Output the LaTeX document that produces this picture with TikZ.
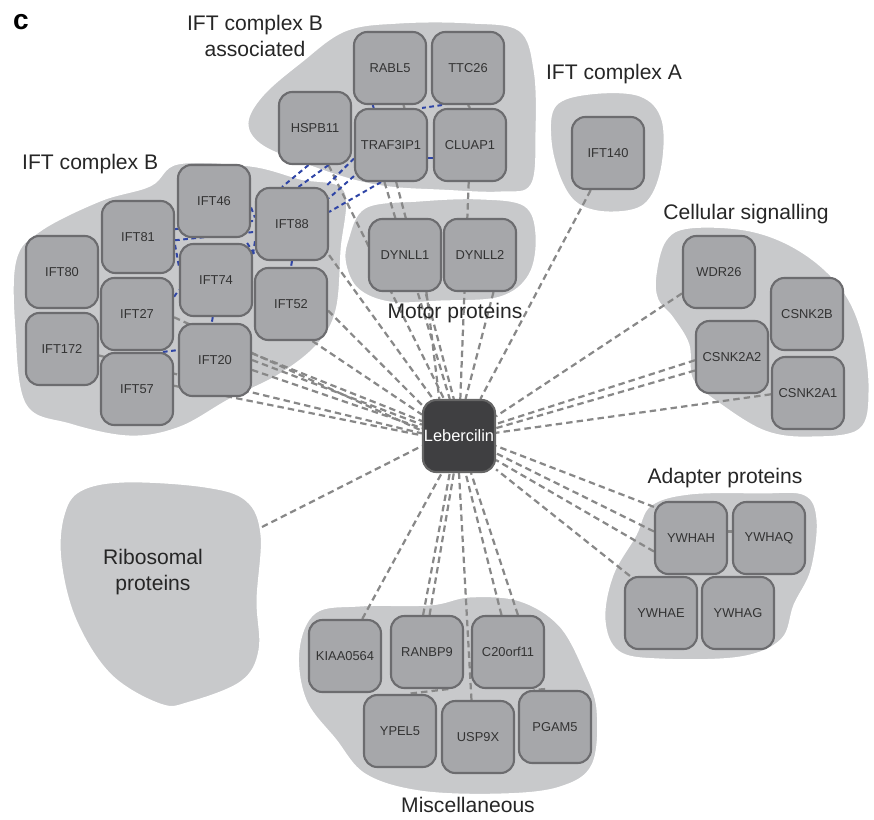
\documentclass[tikz,border=0pt]{standalone}
\usepackage{fontspec}
\setmainfont{Liberation Sans}
\definecolor{blobgray}{HTML}{C8C9CB}
\definecolor{protgray}{HTML}{A6A7AA}
\definecolor{rimgray}{HTML}{6C6C6F}
\definecolor{lebgray}{HTML}{3F3F41}
\definecolor{linkgray}{HTML}{888888}
\definecolor{linkblue}{HTML}{2F45A6}
\pgfdeclarelayer{blobs}
\pgfdeclarelayer{links}
\pgfsetlayers{blobs,links,main}

\begin{document}
\begin{tikzpicture}[x=0.03cm,y=-0.03cm,
    prot/.style={draw=rimgray,fill=protgray,line width=1.8pt,rounded corners=0.4cm,
      minimum size=2.16cm,inner sep=0pt,text=black!80,font=\fontsize{11}{13}\selectfont},
    grp/.style={fill=blobgray,draw=white,line width=2.5pt},
    glabel/.style={inner sep=0pt,text=black!85,font=\fontsize{18}{21.5}\selectfont,align=center},
    lnk/.style={linkgray,dash pattern=on 5.5pt off 3.5pt,line width=1.9pt},
    iftlnk/.style={linkblue,dash pattern=on 4pt off 3pt,line width=1.7pt}]
    \useasboundingbox (0,0) rectangle (874,820);

    % groups
    \begin{pgfonlayer}{blobs}
    \draw[grp] plot[smooth cycle,tension=0.6] coordinates {(15,260) (40,230) (100,200) (150,185)
      (178,163) (250,165) (300,178) (345,190) (342,250) (337,310) (318,345) (280,375)
      (230,400) (180,428) (130,437) (70,425) (25,405) (14,330)};
    \draw[grp] plot[smooth cycle,tension=0.6] coordinates {(247,123) (262,95) (300,62) (345,30)
      (400,22) (470,22) (520,30) (535,70) (537,130) (532,185) (500,193) (440,191)
      (390,188) (350,180) (300,163) (260,145)};
    \draw[grp] plot[smooth cycle,tension=0.6] coordinates {(347,240) (365,207) (420,200) (480,198)
      (525,205) (537,235) (530,275) (500,298) (440,302) (390,303) (358,290) (345,265)};
    \draw[grp] plot[smooth cycle,tension=0.6] coordinates {(555,105) (590,93) (640,95) (663,120)
      (662,170) (645,205) (610,213) (578,205) (560,180) (550,140)};
    \draw[grp] plot[smooth cycle,tension=0.6] coordinates {(655,275) (665,240) (690,227) (750,230)
      (800,250) (840,285) (862,330) (870,390) (860,430) (810,438) (765,432) (720,405)
      (692,380) (688,345) (672,318) (657,300)};
    \draw[grp] plot[smooth cycle,tension=0.6] coordinates {(650,505) (690,493) (760,492) (805,494)
      (818,520) (812,570) (795,605) (782,640) (740,658) (660,660) (618,652) (604,620)
      (612,575) (635,535)};
    \draw[grp] plot[smooth cycle,tension=0.6] coordinates {(298,650) (315,612) (360,605) (430,604)
      (470,596) (520,600) (560,625) (585,670) (598,710) (593,765) (560,788) (500,795)
      (420,792) (365,775) (335,740) (305,700)};
    \draw[grp] plot[smooth cycle,tension=0.6] coordinates {(63,515) (80,490) (125,481) (205,486)
      (247,500) (262,535) (258,600) (260,650) (242,682) (190,703) (160,705) (110,675)
      (75,620) (60,560)};
    \end{pgfonlayer}
    \coordinate (riboend) at (262,527);

    % IFT complex B
    \node[prot] (ift46) at (214,201) {IFT46};
    \node[prot] (ift88) at (292,224) {IFT88};
    \node[prot] (ift81) at (138,237) {IFT81};
    \node[prot] (ift80) at (62,272) {IFT80};
    \node[prot] (ift74) at (216,280) {IFT74};
    \node[prot] (ift52) at (291,304) {IFT52};
    \node[prot] (ift27) at (137,314) {IFT27};
    \node[prot] (ift172) at (62,349) {IFT172};
    \node[prot] (ift20) at (215,360) {IFT20};
    \node[prot] (ift57) at (137,389) {IFT57};

    % IFT complex B associated
    \node[prot] (rabl5) at (390,68) {RABL5};
    \node[prot] (ttc26) [right of=rabl5,node distance=2.34cm] {TTC26};
    \node[prot] (hspb11) at (315,128) {HSPB11};
    \node[prot] (traf3ip1) at (391,145) {TRAF3IP1};
    \node[prot] (cluap1) [right of=traf3ip1,node distance=2.37cm] {CLUAP1};

    \node[prot] (ift140) at (608,153) {IFT140};

    \node[prot] (dynll1) at (405,255) {DYNLL1};
    \node[prot] (dynll2) [right of=dynll1,node distance=2.25cm] {DYNLL2};

    \node[prot,fill=lebgray,draw=black!60,text=white,font=\fontsize{14}{16}\selectfont]
      (leb) at (459,436) {Lebercilin};

    \node[prot] (wdr26) at (719,272) {WDR26};
    \node[prot] (csnk2b) at (807,314) {CSNK2B};
    \node[prot] (csnk2a2) at (732,357) {CSNK2A2};
    \node[prot] (csnk2a1) at (808,393) {CSNK2A1};

    \node[prot] (ywhah) at (691,538) {YWHAH};
    \node[prot] (ywhaq) [right of=ywhah,node distance=2.34cm] {YWHAQ};
    \node[prot] (ywhae) at (661,613) {YWHAE};
    \node[prot] (ywhag) [right of=ywhae,node distance=2.31cm] {YWHAG};

    \node[prot] (kiaa0564) at (345,656) {KIAA0564};
    \node[prot] (ranbp9) at (427,652) {RANBP9};
    \node[prot] (c20orf11) at (508,652) {C20orf11};
    \node[prot] (ypel5) at (400,731) {YPEL5};
    \node[prot] (usp9x) at (478,737) {USP9X};
    \node[prot] (pgam5) at (555,727) {PGAM5};

    % group labels
    \node[font=\fontsize{24}{26}\selectfont\bfseries] (panel) at (21,22) {c};
    \node[glabel,anchor=base west] (lblb) at (22,170) {IFT complex B};
    \node[glabel] (lblassoc) at (255,36) {IFT complex B\\associated};
    \node[glabel,anchor=base] (lbla) at (614,80) {IFT complex A};
    \node[glabel,anchor=base] (lblsig) at (746,220) {Cellular signalling};
    \node[glabel,anchor=base] (lblmotor) at (455,318) {Motor proteins};
    \node[glabel,anchor=base] (lbladapt) at (725,483) {Adapter proteins};
    \node[glabel,anchor=base] (lblmisc) at (468,812) {Miscellaneous};
    \node[glabel] (lblribo) at (153,572) {Ribosomal\\proteins};

    % interactions
    \begin{pgfonlayer}{links}
    \draw[lnk] (ift88.-40) -- (leb.125);
    \draw[lnk] (ift52.-10) -- (leb.140);
    \draw[lnk] (ift52.-60) -- (leb.150);
    \draw[lnk] (ift20.10) -- (leb.158);
    \draw[lnk] (ift20.0) -- (leb.163);
    \draw[lnk] (ift20.-15) -- (leb.168);
    \draw[lnk] (ift27.-5) -- (leb.172);
    \draw[lnk] (ift172.-10) -- (leb.176);
    \draw[lnk] (ift57.5) -- (leb.179);
    \draw[lnk] (hspb11.-70) -- (leb.112);
    \draw[lnk] (traf3ip1.-100) -- (leb.104);
    \draw[lnk] (traf3ip1.-82) -- (leb.98);
    \draw[lnk] (dynll1.-60) -- (leb.118);
    \draw[lnk] (cluap1.-92) -- (leb.88);
    \draw[lnk] (dynll2.-70) -- (leb.80);
    \draw[lnk] (ift140.-115) -- (leb.60);
    \draw[lnk] (wdr26.-150) -- (leb.28);
    \draw[lnk] (csnk2a2.-175) -- (leb.18);
    \draw[lnk] (csnk2a2.-160) -- (leb.12);
    \draw[lnk] (csnk2a1.-178) -- (leb.5);
    \draw[lnk] (ywhah.140) -- (leb.-15);
    \draw[lnk] (ywhah.170) -- (leb.-25);
    \draw[lnk] (ywhah.-160) -- (leb.-33);
    \draw[lnk] (ywhae.130) -- (leb.-42);
    \draw[lnk] (riboend) -- (leb.-165);
    \draw[lnk] (kiaa0564.65) -- (leb.-115);
    \draw[lnk] (ranbp9.96) -- (leb.-104);
    \draw[lnk] (ranbp9.86) -- (leb.-98);
    \draw[lnk] (usp9x.100) -- (leb.-90);
    \draw[lnk] (c20orf11.100) -- (leb.-80);
    \draw[lnk] (c20orf11.75) -- (leb.-72);
    \draw[lnk] (rabl5.-70) -- (traf3ip1.70);
    \draw[lnk] (ttc26.-90) -- (cluap1.90);
    \draw[lnk] (ranbp9.-60) -- (ypel5.80);
    \draw[lnk] (c20orf11.-45) -- (pgam5.120);
    \draw[lnk] (ywhah.10) -- (ywhaq.170);
    % within IFT-B
    \draw[iftlnk] (hspb11.-100) -- (ift88.105);
    \draw[iftlnk] (hspb11.-70) -- (ift88.80);
    \draw[iftlnk] (traf3ip1.-140) -- (ift88.35);
    \draw[iftlnk] (traf3ip1.-160) -- (ift88.48);
    \draw[iftlnk] (traf3ip1.-105) -- (ift88.18);
    \draw[iftlnk] (ttc26.-125) -- (traf3ip1.50);
    \draw[iftlnk] (rabl5.-115) -- (traf3ip1.115);
    \draw[iftlnk] (traf3ip1.-20) -- (cluap1.-160);
    \draw[iftlnk] (ift46.-10) -- (ift88.170);
    \draw[iftlnk] (ift81.12) -- (ift88.175);
    \draw[iftlnk] (ift81.-5) -- (ift88.-168);
    \draw[iftlnk] (ift74.50) -- (ift88.-140);
    \draw[iftlnk] (ift74.35) -- (ift88.-155);
    \draw[iftlnk] (ift88.-90) -- (ift52.90);
    \draw[iftlnk] (ift27.25) -- (ift74.-165);
    \draw[iftlnk] (ift74.-95) -- (ift20.95);
    \draw[iftlnk] (ift57.55) -- (ift20.165);
    \draw[iftlnk] (ift81.-12) -- (ift74.160);
    \end{pgfonlayer}
\end{tikzpicture}
\end{document}
